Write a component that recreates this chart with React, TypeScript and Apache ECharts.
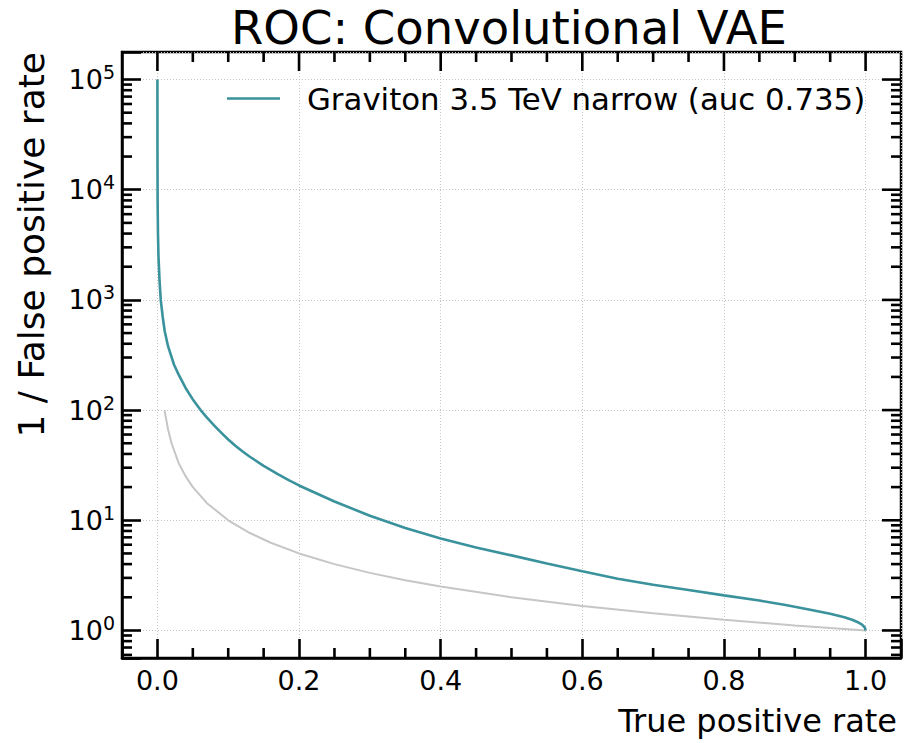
import React, { useEffect, useRef } from "react";
import * as echarts from "echarts";

const FONT = "DejaVu Sans";
const TITLE = "ROC: Convolutional VAE";
const SERIES_NAME = "Graviton 3.5 TeV narrow (auc 0.735)";
const X_LABEL = "True positive rate";
const Y_LABEL = "1 / False positive rate";

// Signal ROC: true positive rate vs 1/false positive rate
const signalTpr = [
  0, 0.0001, 0.0003, 0.0008, 0.0015, 0.003, 0.0047, 0.0075, 0.0104, 0.015,
  0.0235, 0.03, 0.04, 0.05, 0.061, 0.07, 0.08, 0.09, 0.1, 0.11, 0.12, 0.13,
  0.15, 0.17, 0.186, 0.2, 0.25, 0.3, 0.35, 0.4, 0.45, 0.5, 0.55, 0.6, 0.65,
  0.7, 0.75, 0.8, 0.85, 0.887, 0.92, 0.95, 0.97, 0.981, 0.99, 0.995, 0.999, 1.0,
];
const signalInvFpr = [
  100000, 20000, 8000, 4000, 2500, 1500, 1000, 700, 517, 380,
  258, 210, 158, 125, 100, 85.5, 72.8, 62.4, 54.1, 47.5, 42.3, 37.9,
  31.2, 26.2, 23, 20.7, 14.8, 11.0, 8.5, 6.84, 5.65, 4.8, 4.05, 3.45, 2.95,
  2.6, 2.33, 2.08, 1.87, 1.7, 1.55, 1.42, 1.32, 1.25, 1.18, 1.13, 1.06, 1.0,
];

// Random-guess reference curve (grey)
const randomTpr = [
  0.01, 0.015, 0.02, 0.03, 0.04, 0.05, 0.07, 0.1, 0.13, 0.16, 0.2, 0.25, 0.3,
  0.35, 0.4, 0.5, 0.6, 0.7, 0.8, 0.9, 1.0,
];
const randomInvFpr = [
  100, 67, 50, 33, 25, 20, 14.3, 10, 7.7, 6.25, 5, 4, 3.33,
  2.86, 2.5, 2, 1.67, 1.43, 1.25, 1.11, 1,
];

// Axis settings and tick positions
const xMin = -0.05;
const xMax = 1.05;
const yMin = 0.5623; // 10^-0.25
const yMax = 177828; // 10^5.25
const xMajorTicks = [0, 0.2, 0.4, 0.6, 0.8, 1.0];
const xMinorTicks = [
  0.05, 0.1, 0.15, 0.25, 0.3, 0.35, 0.45, 0.5, 0.55, 0.65, 0.7, 0.75, 0.85,
  0.9, 0.95,
];
const yMajorTicks = [1, 10, 100, 1000, 10000, 100000];
const yMinorTicks = [
  0.6, 0.7, 0.8, 0.9,
  2, 3, 4, 5, 6, 7, 8, 9,
  20, 30, 40, 50, 60, 70, 80, 90,
  200, 300, 400, 500, 600, 700, 800, 900,
  2000, 3000, 4000, 5000, 6000, 7000, 8000, 9000,
  20000, 30000, 40000, 50000, 60000, 70000, 80000, 90000,
];

const TEAL = "#3a929c";
const GREY = "#c6c6c6";
const MAJOR_LEN = 19;
const MINOR_LEN = 10;
const TICK_W = 2.6;

export default function App() {
  const ref = useRef<HTMLDivElement>(null);

  useEffect(() => {
    if (!ref.current) return;
    const chart = echarts.init(ref.current, null, { renderer: "svg" });

    const xLabelFmt = (v: number) => {
      if (v < -1e-9 || v > 1 + 1e-9) return "";
      const k = Math.round(v / 0.2);
      if (Math.abs(k * 0.2 - v) > 1e-6) return "";
      return v.toFixed(1);
    };
    const yLabelFmt = (v: number) => {
      const e = Math.log10(v);
      const r = Math.round(e);
      if (Math.abs(e - r) > 1e-6) return "";
      return "{b|10}{s|" + r + "}";
    };

    chart.setOption({
      animation: false,
      backgroundColor: "#ffffff",
      title: {
        text: TITLE,
        left: 231,
        top: 4,
        padding: 0,
        textStyle: { fontFamily: FONT, fontSize: 46.5, fontWeight: "normal", color: "#000" },
      },
      legend: {
        data: [SERIES_NAME],
        left: 227,
        top: 83,
        padding: 0,
        icon: "rect",
        itemWidth: 53,
        itemHeight: 2.6,
        selectedMode: false,
        textStyle: { fontFamily: FONT, fontSize: 30.8, color: "#000", padding: [0, 0, 0, 22] },
      },
      grid: {
        left: 122,
        right: 3,
        top: 52,
        bottom: 85,
        show: true,
        borderColor: "#000",
        borderWidth: 2.5,
        backgroundColor: "transparent",
      },
      xAxis: {
        type: "value",
        min: xMin,
        max: xMax,
        axisLine: { show: true, onZero: false, lineStyle: { color: "#000", width: 2.5 } },
        axisTick: { show: true, inside: true, length: MAJOR_LEN, lineStyle: { color: "#000", width: TICK_W } },
        axisLabel: {
          show: true,
          margin: 9,
          fontFamily: FONT,
          fontSize: 27,
          color: "#000",
          formatter: xLabelFmt,
        },
        splitLine: { show: true, lineStyle: { color: "#c4c4c4", width: 1, type: [1, 2] } },
      },
      yAxis: {
        type: "log",
        min: yMin,
        max: yMax,
        axisLine: { show: true, onZero: false, lineStyle: { color: "#000", width: 2.5 } },
        axisTick: { show: true, inside: true, length: MAJOR_LEN, lineStyle: { color: "#000", width: TICK_W } },
        axisLabel: {
          show: true,
          margin: 7,
          color: "#000",
          formatter: yLabelFmt,
          rich: {
            b: { fontFamily: FONT, fontSize: 27, lineHeight: 34, color: "#000" },
            s: { fontFamily: FONT, fontSize: 19, lineHeight: 19, verticalAlign: "top", color: "#000" },
          },
        },
        splitLine: { show: true, lineStyle: { color: "#c4c4c4", width: 1, type: [1, 2] } },
      },
      series: [
        {
          name: "random",
          type: "line",
          showSymbol: false,
          symbol: "none",
          lineStyle: { color: GREY, width: 2 },
          itemStyle: { color: GREY },
          data: randomTpr.map((x, i) => [x, randomInvFpr[i]]),
          z: 3,
        },
        {
          name: SERIES_NAME,
          type: "line",
          showSymbol: false,
          symbol: "none",
          lineStyle: { color: TEAL, width: 2.6 },
          itemStyle: { color: TEAL },
          data: signalTpr.map((x, i) => [x, signalInvFpr[i]]),
          z: 4,
        },
      ],
    });

    // Top/right ticks and minor ticks, placed through the chart's own scales
    const toPx = (x: number, y: number) =>
      chart.convertToPixel({ gridIndex: 0 }, [x, y]) as number[];
    const leftX = toPx(xMin, 1)[0];
    const rightX = toPx(xMax, 1)[0];
    const topY = toPx(0, yMax)[1];
    const bottomY = toPx(0, yMin)[1];
    const graphics: any[] = [];
    const vtick = (x: number, y0: number, len: number) =>
      graphics.push({
        type: "rect",
        shape: { x: x - TICK_W / 2, y: len > 0 ? y0 : y0 + len, width: TICK_W, height: Math.abs(len) },
        style: { fill: "#000" },
      });
    const htick = (x0: number, y: number, len: number) =>
      graphics.push({
        type: "rect",
        shape: { x: len > 0 ? x0 : x0 + len, y: y - TICK_W / 2, width: Math.abs(len), height: TICK_W },
        style: { fill: "#000" },
      });
    xMajorTicks.forEach((v) => vtick(toPx(v, 1)[0], topY, MAJOR_LEN));
    xMinorTicks.forEach((v) => {
      const px = toPx(v, 1)[0];
      vtick(px, topY, MINOR_LEN);
      vtick(px, bottomY, -MINOR_LEN);
    });
    yMajorTicks.forEach((v) => htick(rightX, toPx(0, v)[1], -MAJOR_LEN));
    yMinorTicks.forEach((v) => {
      const py = toPx(0, v)[1];
      htick(leftX, py, MINOR_LEN);
      htick(rightX, py, -MINOR_LEN);
    });
    graphics.push({
      type: "text",
      x: 897,
      y: 721,
      style: {
        text: X_LABEL,
        fontFamily: FONT,
        fontSize: 32,
        fill: "#000",
        textAlign: "right",
        textVerticalAlign: "middle",
      },
    });
    graphics.push({
      type: "text",
      x: 31,
      y: 52,
      rotation: Math.PI / 2,
      style: {
        text: Y_LABEL,
        fontFamily: FONT,
        fontSize: 36,
        fill: "#000",
        textAlign: "right",
        textVerticalAlign: "middle",
      },
    });
    chart.setOption({ graphic: graphics });

    return () => chart.dispose();
  }, []);

  return (
    <div
      ref={ref}
      style={{ position: "fixed", left: 0, top: 0, width: 904, height: 743, background: "#fff" }}
    />
  );
}
